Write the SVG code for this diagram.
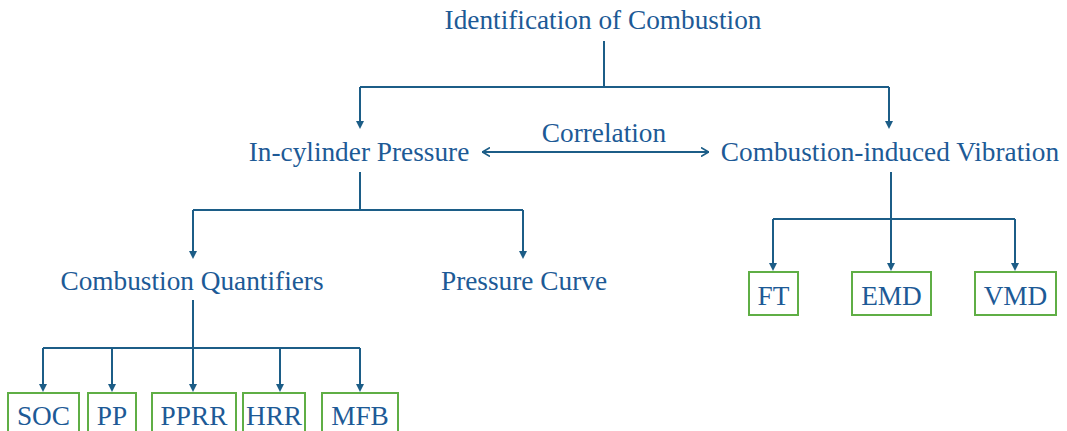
<svg xmlns="http://www.w3.org/2000/svg" width="1067" height="431" viewBox="0 0 1067 431">
<defs>
<style>
text{font-family:"Liberation Serif","Times New Roman",serif;font-size:27.3px;fill:#1d5a96;text-anchor:middle}
.c{fill:none;stroke:#1c5d87;stroke-width:2}
.a{marker-end:url(#ah)}
.box{fill:#fff;stroke:#5fae45;stroke-width:2}
</style>
<marker id="ah" viewBox="0 0 8 8" refX="5" refY="4" markerWidth="8" markerHeight="8" markerUnits="userSpaceOnUse" orient="auto">
<path d="M0,0 L8,4 L0,8 z" fill="#1c5d87"/>
</marker>
<marker id="ch" viewBox="0 0 8 10" refX="8" refY="5" markerWidth="8" markerHeight="10" markerUnits="userSpaceOnUse" orient="auto-start-reverse">
<path d="M0,0.5 L7.5,5 L0,9.5" fill="none" stroke="#1c5d87" stroke-width="1.6"/>
</marker>
</defs>
<rect width="1067" height="431" fill="#fff"/>
<g id="connectors">
<path class="c" d="M604,41 V87 M360,87 H889"/>
<path class="c a" d="M360,87 V126"/>
<path class="c a" d="M889,87 V126"/>
<path class="c" d="M482,152 H709" marker-start="url(#ch)" marker-end="url(#ch)"/>
<path class="c" d="M360,172 V210 M193,210 H523"/>
<path class="c a" d="M193,210 V256"/>
<path class="c a" d="M523,210 V256"/>
<path class="c" d="M891,172 V219 M773,219 H1015"/>
<path class="c a" d="M773,219 V268"/>
<path class="c a" d="M891,219 V268"/>
<path class="c a" d="M1015,219 V268"/>
<path class="c" d="M193,300 V348 M43,348 H360"/>
<path class="c a" d="M43,348 V389"/>
<path class="c a" d="M112,348 V389"/>
<path class="c a" d="M193,348 V389"/>
<path class="c a" d="M280,348 V389"/>
<path class="c a" d="M360,348 V389"/>
</g>
<g id="n-title"><text x="603" y="29">Identification of Combustion</text></g>
<g id="n-correlation"><text x="604" y="142">Correlation</text></g>
<g id="n-pressure"><text x="359" y="161">In-cylinder Pressure</text></g>
<g id="n-vibration"><text x="890" y="161">Combustion-induced Vibration</text></g>
<g id="n-quant"><text x="192" y="290">Combustion Quantifiers</text></g>
<g id="n-curve"><text x="524" y="290">Pressure Curve</text></g>
<g id="n-ft"><rect class="box" x="749" y="272" width="49" height="43"/><text x="773.5" y="305">FT</text></g>
<g id="n-emd"><rect class="box" x="852" y="272" width="79" height="43"/><text x="891.5" y="305">EMD</text></g>
<g id="n-vmd"><rect class="box" x="975" y="272" width="81" height="43"/><text x="1015.5" y="305">VMD</text></g>
<g id="n-soc"><rect class="box" x="8" y="393" width="71" height="44"/><text x="43.5" y="425">SOC</text></g>
<g id="n-pp"><rect class="box" x="88" y="393" width="48" height="44"/><text x="112" y="425">PP</text></g>
<g id="n-pprr"><rect class="box" x="152" y="393" width="84" height="44"/><text x="194" y="425">PPRR</text></g>
<g id="n-hrr"><rect class="box" x="243" y="393" width="62" height="44"/><text x="274" y="425">HRR</text></g>
<g id="n-mfb"><rect class="box" x="322" y="393" width="76" height="44"/><text x="360" y="425">MFB</text></g>
</svg>
